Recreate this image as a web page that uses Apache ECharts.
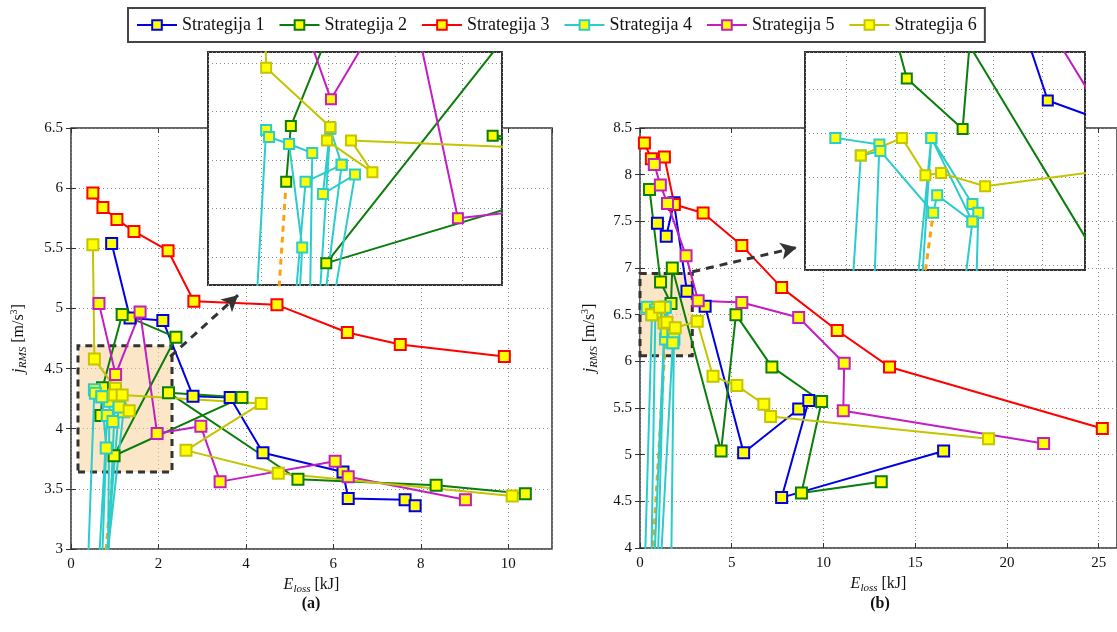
<!DOCTYPE html>
<html><head><meta charset="utf-8">
<script src="https://cdn.jsdelivr.net/npm/echarts@6/dist/echarts.min.js"></script>
<style>html,body{margin:0;padding:0;background:#fff}#c{width:1117px;height:632px}</style>
</head><body><div id="c"></div>
<script>
// ---------- DATA ----------
const names = ['Strategija 1','Strategija 2','Strategija 3','Strategija 4','Strategija 5','Strategija 6'];
const G = ['-','-']; // gap marker
// Plot (a)
const s1A = [[0.93,5.54],[1.35,4.92],[2.1,4.90],[2.79,4.27],[3.64,4.26],[4.39,3.80],[6.22,3.64],[6.34,3.42],[7.64,3.41],[7.87,3.36]];
const s2A = [[0.685,4.11],[0.72,4.34],[1.17,4.95],[2.40,4.76],[0.985,3.775],[3.91,4.26],[2.23,4.30],[5.19,3.58],[8.35,3.53],[10.39,3.46]];
const s3A = [[0.50,5.96],[0.73,5.84],[1.05,5.74],[1.44,5.64],[2.22,5.48],[2.81,5.06],[4.71,5.03],[6.32,4.80],[7.53,4.70],[9.91,4.60]];
const s4A = [[0.30,2.0],[0.535,4.324],[0.557,4.295],[0.707,4.266],[0.88,4.229],[0.82,2.0],G,
             [0.707,4.266],[0.805,3.84],[0.62,2.0],G,
             [0.50,2.0],[0.83,4.11],[1.10,4.18],[1.015,4.33],[0.96,4.06],[1.20,4.14],[0.54,2.0],G,
             [1.015,4.33],[0.75,2.0],G,
             [1.10,4.18],[0.60,2.0]];
const s5A = [[0.64,5.04],[1.02,4.45],[1.58,4.97],[1.97,3.96],[2.97,4.02],[3.41,3.56],[6.04,3.73],[6.34,3.60],[9.02,3.41]];
const s6A = [[0.50,5.53],[0.535,4.58],[1.015,4.336],[0.99,4.28],[1.33,4.15],[1.17,4.28],[4.35,4.21],[2.63,3.82],[4.74,3.63],[10.09,3.44]];
const dashAMain = [[0.78,2.9],[0.985,3.775]];
const dashAInset = [[0.55,3.0],[0.685,4.11]];
// Plot (b)
const s1B = [[0.95,7.48],[1.43,7.34],[1.85,7.70],[2.56,6.75],[3.55,6.59],[5.65,5.02],[8.65,5.49],[9.2,5.58],[7.72,4.54],[16.55,5.04]];
const s2B = [[0.52,7.84],[1.12,6.85],[1.69,6.62],[1.76,7.0],[4.42,5.04],[5.23,6.5],[7.19,5.94],[9.9,5.57],[8.8,4.59],[13.15,4.71]];
const s3B = [[0.24,8.34],[0.62,8.17],[1.33,8.19],[1.87,7.68],[3.44,7.59],[5.55,7.24],[7.72,6.79],[10.75,6.33],[13.6,5.94],[25.2,5.28]];
const s4B = [[0.39,6.58],[0.84,6.55],[0.55,3.0],G,
             [0.15,3.0],[0.65,6.50],[0.85,6.52],[1.39,6.24],[1.43,6.32],[1.79,6.20],[0.9,3.0],G,
             [0.6,3.0],[1.37,6.58],[1.79,6.28],[1.85,6.24],[1.65,3.0],G,
             [0.85,3.0],[1.37,6.58],[1.79,6.20]];
const s5B = [[0.78,8.11],[1.11,7.89],[1.5,7.69],[2.51,7.13],[3.17,6.65],[5.55,6.63],[8.65,6.47],[11.13,5.98],[11.08,5.47],[22.0,5.12]];
const s6B = [[0.65,6.50],[1.07,6.58],[1.31,6.41],[1.47,6.42],[1.92,6.36],[3.12,6.43],[3.98,5.84],[5.28,5.74],[6.75,5.54],[7.12,5.41],[19.0,5.17]];
const dashB = [[0.68,3.9],[1.39,6.24]];
// axes / ticks
const xTicksA = {min:0, max:11, interval:2};
const yTicksA = {min:3, max:6.5, interval:0.5};
const xTicksB = {min:0, max:26, interval:5};
const yTicksB = {min:4, max:8.5, interval:0.5};
// zoom regions (dashed boxes) and inset ranges
const boxAX = [0.16, 2.31], boxAY = [3.64, 4.69];
const boxBX = [0.0, 2.85], boxBY = [6.06, 6.94];
const insetAX = [0.1, 2.3], insetAY = [3.685, 4.645];
const insetBX = [0.08, 2.94], insetBY = [5.98, 6.97];
const arrowA = [[2.27,4.6],[3.82,5.11]];
const arrowB = [[2.85,6.96],[8.54,7.22]];

// ---------- STYLE ----------
const colors = ['#0000e6','#0b7d0b','#ff0000','#2ccccc','#c21ec2','#c4c400'];
const FF = 'Liberation Serif';
const dataA = [s1A,s2A,s3A,s4A,s5A,s6A];
const dataB = [s1B,s2B,s3B,s4B,s5B,s6B];
const dotted = {type:[1,3], color:'#888', width:1};

function strat(i, data, axis, z, size){
  return {name:names[i], type:'line', xAxisIndex:axis, yAxisIndex:axis, data:data,
    symbol:'rect', symbolSize:size, showAllSymbol:true, connectNulls:false, clip:true,
    lineStyle:{color:colors[i], width:2}, itemStyle:{color:'#ffff00', borderColor:colors[i], borderWidth:2},
    emphasis:{disabled:true}, z:z, animation:false};
}
function dash(data, axis, z){
  return {type:'line', xAxisIndex:axis, yAxisIndex:axis, data:data, symbol:'none', clip:true,
    lineStyle:{color:'#ffa10a', width:3, type:[6,5]}, z:z, emphasis:{disabled:true}, silent:true};
}
function boxSeries(axis, bx, by){
  return {type:'line', xAxisIndex:axis, yAxisIndex:axis, data:[], z:1, silent:true,
    markArea:{silent:true, animation:false, label:{show:false},
      itemStyle:{color:'rgba(248,212,155,0.55)', borderColor:'#333', borderWidth:3, borderType:[7,5]},
      data:[[{coord:[bx[0],by[0]]},{coord:[bx[1],by[1]]}]]}};
}
function arrowSeries(axis, a){
  return {type:'line', xAxisIndex:axis, yAxisIndex:axis, data:[], z:5, silent:true,
    markLine:{silent:true, animation:false, symbol:['none','arrow'], symbolSize:[13,16], label:{show:false},
      lineStyle:{color:'#333', width:3, type:[8,6]},
      data:[[{coord:a[0]},{coord:a[1]}]]}};
}
const tickLabel = {fontFamily:FF, fontSize:15, color:'#111'};
const nameRichX = {e:{fontFamily:FF,fontSize:16,fontStyle:'italic',lineHeight:20,color:'#111'},
  s:{fontFamily:FF,fontSize:11,fontStyle:'italic',lineHeight:10,verticalAlign:'bottom',color:'#111'},
  n:{fontFamily:FF,fontSize:16,lineHeight:20,color:'#111'}};
const nameRichY = {e:{fontFamily:FF,fontSize:17,fontStyle:'italic',lineHeight:20,color:'#111'},
  s:{fontFamily:FF,fontSize:11,fontStyle:'italic',lineHeight:10,verticalAlign:'bottom',color:'#111'},
  n:{fontFamily:FF,fontSize:16,lineHeight:20,color:'#111'},
  p:{fontFamily:FF,fontSize:10,lineHeight:10,verticalAlign:'top',color:'#111'}};

function mainX(gi, t){
  return {gridIndex:gi, type:'value', min:t.min, max:t.max, interval:t.interval,
    name:'{e|E}{s|loss}{n| [kJ]}', nameLocation:'middle', nameGap:19, nameTextStyle:{rich:nameRichX},
    axisLine:{show:false}, axisTick:{inside:true, length:5, lineStyle:{color:'#333'}},
    axisLabel:Object.assign({showMaxLabel:false, margin:8}, tickLabel),
    splitLine:{show:true, lineStyle:dotted}};
}
function mainY(gi, t, gap){
  return {gridIndex:gi, type:'value', min:t.min, max:t.max, interval:t.interval,
    name:'{e|j}{s|RMS}{n| [m/s}{p|3}{n|]}', nameLocation:'middle', nameRotate:90, nameGap:gap, nameTextStyle:{rich:nameRichY},
    axisLine:{show:false}, axisTick:{inside:true, length:5, lineStyle:{color:'#333'}},
    axisLabel:Object.assign({margin:8}, tickLabel),
    splitLine:{show:true, lineStyle:dotted}};
}
function mirrorAxis(gi, t, pos){
  return {gridIndex:gi, type:'value', position:pos, min:t.min, max:t.max, interval:t.interval,
    axisLine:{show:false}, axisTick:{inside:true, length:5, lineStyle:{color:'#333'}},
    axisLabel:{show:false}, splitLine:{show:false}};
}
function insetAxis(gi, r){
  // no interval: ticks fall on nice round values inside the fixed range
  return {gridIndex:gi, type:'value', min:r[0], max:r[1], splitNumber:5, z:11,
    axisLine:{show:false}, axisTick:{show:false}, axisLabel:{show:false},
    splitLine:{show:true, lineStyle:dotted}};
}

const series = [];
series.push(boxSeries(0, boxAX, boxAY));
series.push(boxSeries(1, boxBX, boxBY));
series.push(dash(dashAMain, 0, 2));
series.push(dash(dashB, 1, 2));
series.push(dash(dashAInset, 2, 12));
series.push(dash(dashB, 3, 12));
for (let i=0;i<6;i++){
  series.push(strat(i, dataA[i], 0, 3, 11));
  series.push(strat(i, dataB[i], 1, 3, 11));
  series.push(strat(i, dataA[i], 2, 13, 10));
  series.push(strat(i, dataB[i], 3, 13, 10));
}
series.push(arrowSeries(0, arrowA));
series.push(arrowSeries(1, arrowB));

const option = {
  animation:false,
  backgroundColor:'#fff',
  legend:{data:names, left:128, top:8, orient:'horizontal', itemWidth:40, itemHeight:12, itemGap:14,
    padding:[8,8], borderColor:'#444', borderWidth:2, backgroundColor:'#fff',
    textStyle:{fontFamily:FF, fontSize:18, color:'#111'}, selectedMode:false},
  grid:[
    {left:71, top:128, width:481, height:421, show:true, borderColor:'#333', borderWidth:1.5, backgroundColor:'transparent'},
    {left:640, top:128, width:480, height:420, show:true, borderColor:'#333', borderWidth:1.5, backgroundColor:'transparent'},
    {left:208, top:52, width:294, height:233, show:true, borderColor:'#333', borderWidth:2, backgroundColor:'#fff', z:10},
    {left:805, top:52, width:280, height:218, show:true, borderColor:'#333', borderWidth:2, backgroundColor:'#fff', z:10}
  ],
  xAxis:[mainX(0, xTicksA), mainX(1, xTicksB), insetAxis(2, insetAX), insetAxis(3, insetBX),
         mirrorAxis(0, xTicksA, 'top'), mirrorAxis(1, xTicksB, 'top')],
  yAxis:[mainY(0, yTicksA, 42), mainY(1, yTicksB, 40), insetAxis(2, insetAY), insetAxis(3, insetBY),
         mirrorAxis(0, yTicksA, 'right'), mirrorAxis(1, yTicksB, 'right')],
  graphic:[
    {type:'text', x:311, y:604, style:{text:'(a)', font:'bold 16px "Liberation Serif"', fill:'#111', textAlign:'center', textVerticalAlign:'middle'}},
    {type:'text', x:880, y:604, style:{text:'(b)', font:'bold 16px "Liberation Serif"', fill:'#111', textAlign:'center', textVerticalAlign:'middle'}}
  ],
  series:series
};
const chart = echarts.init(document.getElementById('c'), null, {renderer:'canvas'});
chart.setOption(option);
</script></body></html>
